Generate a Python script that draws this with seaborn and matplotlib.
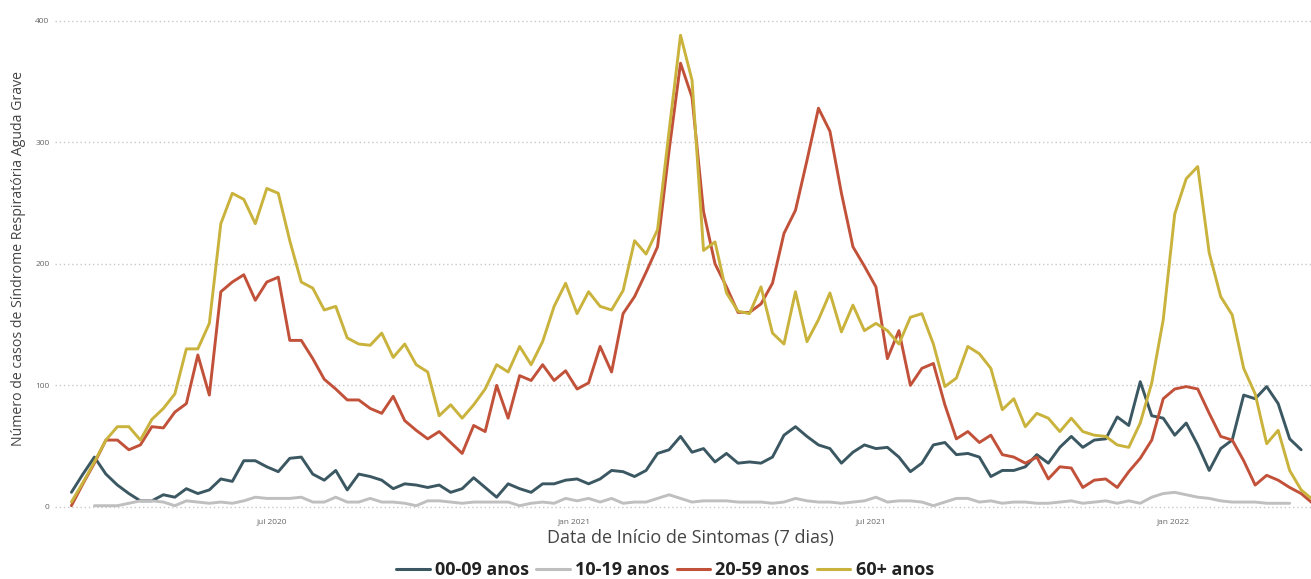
import numpy as np
import pandas as pd
import matplotlib
matplotlib.use("Agg")
import matplotlib.pyplot as plt
from matplotlib.lines import Line2D
import seaborn as sns

# ---- data (weekly, starting week of 2020-03-01) ----
start_date = "2020-03-01"
n_weeks = 109

age_00_09 = [12, 27, 41, 27, 18, 11, 5, 5, 10, 8, 15, 11, 14, 23, 21, 38, 38, 33, 29, 40, 41, 27, 22,
             30, 14, 27, 25, 22, 15, 19, 18, 16, 18, 12, 15, 24, 16, 8, 19, 15, 12, 19, 19, 22, 23, 19, 23, 30, 29, 25, 30,
             44, 47, 58, 45, 48, 37, 44, 36, 37, 36, 41, 59, 66, 58, 51, 48, 36, 45, 51, 48, 49, 41, 29, 36, 51, 53, 43, 44,
             41, 25, 30, 30, 33, 43, 36, 49, 58, 49, 55, 56, 74, 67, 103, 75, 73, 59, 69, 51, 30, 48, 55, 92, 89, 99, 85, 56, 47,
             None]

age_10_19 = [None, None,
             1, 1, 1, 3, 5, 5, 4, 1, 5, 4, 3, 4, 3, 5, 8, 7, 7, 7, 8, 4, 4,
             8, 4, 4, 7, 4, 4, 3, 1, 5, 5, 4, 3, 4, 4, 4, 4, 1, 3, 4, 3, 7, 5, 7, 4, 7, 3, 4, 4,
             7, 10, 7, 4, 5, 5, 5, 4, 4, 4, 3, 4, 7, 5, 4, 4, 3, 4, 5, 8, 4, 5, 5, 4, 1, 4, 7, 7,
             4, 5, 3, 4, 4, 3, 3, 4, 5, 3, 4, 5, 3, 5, 3, 8, 11, 12, 10, 8, 7, 5, 4, 4, 4, 3, 3, 3,
             None, None]

age_20_59 = [1, 19, 36, 55, 55, 47, 51, 66, 65, 78, 85, 125, 92, 177, 185, 191, 170, 185, 189, 137, 137, 122, 105,
             97, 88, 88, 81, 77, 91, 71, 63, 56, 62, 53, 44, 67, 62, 100, 73, 108, 104, 117, 104, 112, 97, 102, 132, 111, 159, 173, 193,
             214, 293, 365, 337, 243, 200, 181, 160, 160, 167, 184, 225, 244, 285, 328, 309, 258, 214, 198, 181, 122, 145, 100, 114, 118, 84, 56, 62,
             53, 59, 43, 41, 36, 41, 23, 33, 32, 16, 22, 23, 16, 29, 40, 55, 89, 97, 99, 97, 77, 58, 55, 38, 18, 26, 22, 16, 11, 3]

age_60p = [4, 20, 37, 55, 66, 66, 55, 72, 81, 93, 130, 130, 151, 233, 258, 253, 233, 262, 258, 219, 185, 180, 162,
           165, 139, 134, 133, 143, 123, 134, 117, 111, 75, 84, 73, 84, 97, 117, 111, 132, 117, 136, 165, 184, 159, 177, 165, 162, 178, 219, 208,
           228, 309, 388, 351, 211, 218, 176, 161, 159, 181, 143, 134, 177, 136, 154, 176, 144, 166, 145, 151, 145, 134, 156, 159, 134, 99, 106, 132,
           126, 114, 80, 89, 66, 77, 73, 62, 73, 62, 59, 58, 51, 49, 69, 102, 154, 241, 270, 280, 209, 173, 158, 114, 93, 52, 63, 30, 14, 6]

groups = ["00-09 anos", "10-19 anos", "20-59 anos", "60+ anos"]
colors = ["#3b5862", "#bfbfbf", "#c2513a", "#c9b33d"]

tick_dates = ["2020-07-01", "2021-01-01", "2021-07-01", "2022-01-01"]
tick_labels = ["jul 2020", "jan 2021", "jul 2021", "jan 2022"]
y_ticks = [0, 100, 200, 300, 400]

# ---- build long table ----
dates = pd.date_range(start_date, periods=n_weeks, freq="7D")
frames = []
for g, vals in zip(groups, [age_00_09, age_10_19, age_20_59, age_60p]):
    frames.append(pd.DataFrame({"data": dates,
                                "casos": pd.to_numeric(pd.Series(vals), errors="coerce"),
                                "grupo": g}))
df = pd.concat(frames, ignore_index=True).dropna()

sns.set_theme(style="white")
plt.rcParams["font.family"] = ["Open Sans", "DejaVu Sans"]

W, H = 1311, 579
fig = plt.figure(figsize=(W / 100, H / 100), dpi=100)
ax_l, ax_r, ax_t, ax_b = 55, 1311, 14.6, 513
ax = fig.add_axes([ax_l / W, 1 - ax_b / H, (ax_r - ax_l) / W, (ax_b - ax_t) / H])

sns.lineplot(data=df, x="data", y="casos", hue="grupo", hue_order=groups,
             palette=colors, linewidth=2.1, ax=ax, legend=False)

ax.set_ylim(-5, 405)
x0 = pd.Timestamp(start_date)
ax.set_xlim(x0 - pd.Timedelta(days=10), x0 + pd.Timedelta(days=755))

ax.set_yticks(y_ticks)
ax.set_yticklabels([str(v) for v in y_ticks], fontsize=6, color="#666666")
ax.set_xticks(pd.to_datetime(tick_dates))
ax.set_xticklabels(tick_labels, fontsize=6, color="#666666")
ax.tick_params(axis="both", length=0, pad=4)

ax.grid(axis="y", linestyle=(0, (1, 2)), color="#c8c8c8", linewidth=1)
ax.grid(axis="x", visible=False)
for s in ax.spines.values():
    s.set_visible(False)

ax_w, ax_h = ax_r - ax_l, ax_b - ax_t
ax.set_xlabel("Data de Início de Sintomas (7 dias)", fontsize=13, color="#444444")
ax.xaxis.set_label_coords((690 - ax_l) / ax_w, (ax_b - 529) / ax_h)
ax.set_ylabel("Número de casos de Síndrome Respiratória Aguda Grave", fontsize=10.2, color="#444444")
ax.yaxis.set_label_coords((26 - ax_l) / ax_w, (ax_b - 259) / ax_h)

handles = [Line2D([0], [0], color=c, lw=2.2) for c in colors]
leg = fig.legend(handles, groups, loc="center", bbox_to_anchor=(665 / W, 1 - 570 / H), ncol=4,
                 frameon=False, handlelength=1.85, handletextpad=0.3, columnspacing=0.4,
                 prop={"weight": "bold", "size": 13})
for t in leg.get_texts():
    t.set_color("#222222")

fig.savefig("out.png", dpi=100)
